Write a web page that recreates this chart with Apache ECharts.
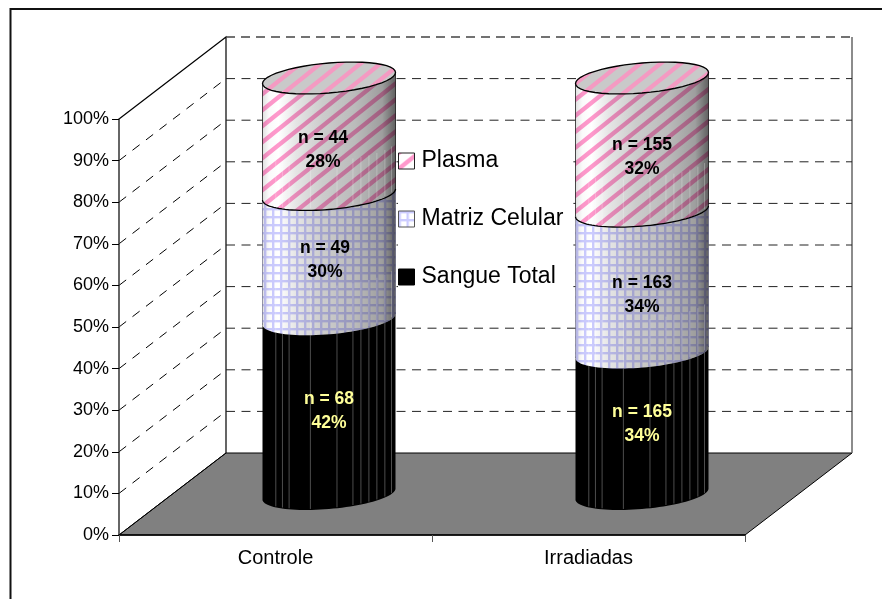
<!DOCTYPE html>
<html><head><meta charset="utf-8">
<style>html,body{margin:0;padding:0;background:#fff}#c{width:882px;height:599px}</style>
<script src="https://cdn.jsdelivr.net/npm/echarts@6/dist/echarts.min.js"></script>
</head><body><div id="c"></div>
<script>
const categories = ['Controle', 'Irradiadas'];
const sangueTotal = [42, 34];
const matrizCelular = [30, 34];
const plasma = [28, 32];
const sangueN = [68, 165];
const matrizN = [49, 163];
const plasmaN = [44, 155];
const percentTicks = [0,10,20,30,40,50,60,70,80,90,100];

const FONT = '"Liberation Sans", Arial, sans-serif';
const DX = 107, DY = -82;           // oblique depth of the 3D box
const BAR_HW = 66.5, ELL_B = 15, ELL_TILT = 5.5;

function makePattern(kind, bg, fg) {
  const c = document.createElement('canvas');
  const x = c.getContext('2d');
  if (kind === 'stripe') {
    c.width = 20; c.height = 16;
    x.fillStyle = bg; x.fillRect(0,0,20,16);
    x.strokeStyle = fg; x.lineWidth = 4.4;
    for (let i = -2; i <= 2; i++) {
      x.beginPath(); x.moveTo(i*20 - 10, 16 + 8); x.lineTo(i*20 + 30, -8); x.stroke();
    }
  } else {
    c.width = 8; c.height = 8;
    x.fillStyle = bg; x.fillRect(0,0,8,8);
    x.fillStyle = fg;
    x.fillRect(0,0,8,2.4); x.fillRect(0,0,2.4,8);
  }
  return c;
}
const stripeImg = makePattern('stripe', '#fff', '#ff99cc');
const capImg = makePattern('stripe', '#c9c9c9', '#f49ac2');
const gridImg = makePattern('grid', '#fff', '#ccccff');

const shade = {type:'linear',x:0,y:0,x2:1,y2:0,colorStops:[
  {offset:0,color:'rgba(0,0,0,0.12)'},{offset:0.05,color:'rgba(0,0,0,0.02)'},{offset:0.12,color:'rgba(0,0,0,0)'},
  {offset:0.25,color:'rgba(0,0,0,0.10)'},{offset:0.45,color:'rgba(0,0,0,0.20)'},{offset:0.7,color:'rgba(0,0,0,0.27)'},
  {offset:0.9,color:'rgba(0,0,0,0.38)'},{offset:1,color:'rgba(0,0,0,0.62)'}]};
const facetAt = [0.1,0.15,0.2,0.36,0.56,0.68,0.74,0.8,0.86,0.92,0.97];

function ellipsePts(cx, cy, from, to) {
  const pts = [], n = 48;
  for (let i = 0; i <= n; i++) {
    const t = from + (to - from) * i / n;
    pts.push([cx + BAR_HW * Math.cos(t), cy + ELL_B * Math.sin(t) - ELL_TILT * Math.cos(t)]);
  }
  return pts;
}

function cylinderItem(vals, base, pattern, opts) {
  return function (params, api) {
    const i = params.dataIndex;
    const lo = base.reduce((s, a) => s + a[i], 0), hi = lo + vals[i];
    const pLo = api.coord([i, lo]), pHi = api.coord([i, hi]);
    const cx = pLo[0] + DX/2, yLo = pLo[1] + DY/2, yHi = pHi[1] + DY/2;
    const back = ellipsePts(cx, yHi, Math.PI, 2*Math.PI);
    const front = ellipsePts(cx, yLo, 0, Math.PI);
    const body = back.concat(front);
    const kids = [];
    const fillStyle = pattern ? {image: pattern, repeat: 'repeat'} : '#000';
    kids.push({type:'polygon', shape:{points:body}, style:{fill: fillStyle, stroke:null}, silent:true});
    if (pattern) {
      kids.push({type:'polygon', shape:{points:body}, style:{fill: {...shade, global:false}, stroke:null}, silent:true});
    }
    facetAt.forEach(f => {
      const fx = cx - BAR_HW + 2*BAR_HW*f;
      const ang = Math.acos((fx - cx)/BAR_HW);
      const off = ELL_B*Math.sin(ang) - ELL_TILT*Math.cos(ang);
      const yb = yLo + off, yt = yHi + off;
      if (pattern) {
        kids.push({type:'line', shape:{x1:fx,y1:yb-48,x2:fx,y2:yb-2}, style:{stroke:'rgba(255,255,255,0.25)',lineWidth:1}, silent:true});
      } else {
        kids.push({type:'line', shape:{x1:fx,y1:yt,x2:fx,y2:yb-1}, style:{stroke:'rgba(110,110,110,0.7)',lineWidth:1}, silent:true});
      }
    });
    if (opts.sideStroke) {
      kids.push({type:'line', shape:{x1:cx-BAR_HW,y1:yHi+ELL_TILT,x2:cx-BAR_HW,y2:yLo+ELL_TILT}, style:{stroke:opts.sideStroke,lineWidth:1}, silent:true});
      kids.push({type:'line', shape:{x1:cx+BAR_HW,y1:yHi-ELL_TILT,x2:cx+BAR_HW,y2:yLo-ELL_TILT}, style:{stroke:opts.sideStroke,lineWidth:1}, silent:true});
    }
    if (opts.bottomArc) {
      kids.push({type:'polyline', shape:{points:front}, style:{stroke:'#000',lineWidth:1.3,fill:null}, silent:true});
    }
    if (opts.cap) {
      const cap = ellipsePts(cx, yHi, 0, 2*Math.PI);
      kids.push({type:'polygon', shape:{points:cap}, style:{fill:{image:capImg,repeat:'repeat'}, stroke:'#000', lineWidth:1.3}, silent:true});
    }
    const mid = api.coord([i, (lo + hi)/2]);
    const nudge = opts.nudge[i];
    const lx = mid[0] + DX/2 + nudge[0], ly = mid[1] + DY/2 + nudge[1];
    kids.push({type:'text', silent:true, z2:50, style:{
      x:lx, y:ly, text:'n = ' + opts.n[i] + '\n' + vals[i] + '%', align:'center', verticalAlign:'middle',
      font:'bold 17.5px ' + FONT, lineHeight:24, fill:opts.textColor}});
    return {type:'group', children:kids};
  };
}

const option = {
  animation:false,
  backgroundColor:'#fff',
  graphic:[
    {type:'polyline', silent:true, shape:{points:[[10.5,599],[10.5,9],[882,9]]}, style:{stroke:'#111',lineWidth:2,fill:null}}
  ],
  grid:{left:119, right:137, top:119, bottom:64, containLabel:false},
  legend:{
    left:398, top:130, orient:'vertical', itemWidth:16, itemHeight:16, itemGap:26,
    padding:[15,10,14,0], backgroundColor:'#fff', selectedMode:false, z:20,
    textStyle:{fontFamily:FONT,fontSize:23,color:'#000',padding:[2,0,0,2],lineHeight:30},
    data:[
      {name:'Plasma',icon:'rect',itemStyle:{color:{image:stripeImg,repeat:'repeat'},borderColor:'#222',borderWidth:1}},
      {name:'Matriz Celular',icon:'rect',itemStyle:{color:{image:makePattern('grid','#fff','#ccccff'),repeat:'repeat'},borderColor:'#555',borderWidth:1}},
      {name:'Sangue Total',icon:'rect',itemStyle:{color:'#000',borderColor:'#000',borderWidth:1}}
    ]
  },
  xAxis:{type:'category',data:categories,boundaryGap:true,
    axisLine:{lineStyle:{color:'#000',width:1.5}},
    axisTick:{show:true,length:7,alignWithLabel:false,lineStyle:{color:'#555',width:1}},
    axisLabel:{fontFamily:FONT,fontSize:20,color:'#000',margin:13},z:5},
  yAxis:{type:'value',min:0,max:100,interval:10,
    axisLine:{show:true,lineStyle:{color:'#333',width:1.5}},
    axisTick:{show:true,length:7,lineStyle:{color:'#000',width:1}},
    axisLabel:{fontFamily:FONT,fontSize:18,color:'#000',margin:10,padding:[2,0,0,0],formatter:'{value}%'},
    splitLine:{show:false},z:5},
  series:[
    {type:'custom',name:'walls',coordinateSystem:'cartesian2d',z:1,silent:true,
     data:[[0,0]],encode:{x:0,y:1},legendHoverLink:false,
     renderItem:function(params,api){
       const a = api.coord([0,0]), b = api.coord([0,100]);
       const size = api.size([1,0]);
       const L = a[0]-size[0]/2, R = L + size[0]*categories.length, y0=a[1], y1=b[1];
       const kids=[
         {type:'polygon',shape:{points:[[L,y0],[L+DX,y0+DY],[R+DX,y0+DY],[R,y0]]},style:{fill:'#808080',stroke:'#000',lineWidth:1}},
         {type:'polyline',shape:{points:[[L,y1],[L+DX,y1+DY],[L+DX,y0+DY]]},style:{stroke:'#000',lineWidth:1.2,fill:null}},
         {type:'line',shape:{x1:L+DX,y1:y0+DY,x2:L,y2:y0},style:{stroke:'#000',lineWidth:1}},
         {type:'line',shape:{x1:R+DX,y1:y1+DY,x2:R+DX,y2:y0+DY},style:{stroke:'#666',lineWidth:1.5}},
         {type:'line',shape:{x1:L+DX,y1:y1+DY,x2:R+DX,y2:y1+DY},style:{stroke:'#444',lineWidth:1.5,lineDash:[9,6]}}
       ];
       percentTicks.forEach(v=>{
         if(v===0||v===100) return;
         const y=api.coord([0,v])[1];
         kids.push({type:'line',shape:{x1:L,y1:y,x2:L+DX,y2:y+DY},style:{stroke:'#000',lineWidth:1,lineDash:[9,8]}});
         kids.push({type:'line',shape:{x1:L+DX,y1:y+DY,x2:R+DX,y2:y+DY},style:{stroke:'#222',lineWidth:1,lineDash:[9,6.5]}});
       });
       return {type:'group',children:kids,silent:true};
     }},
    {type:'custom',name:'Sangue Total',coordinateSystem:'cartesian2d',z:3,silent:true,
     data:categories.map((c,i)=>[i,sangueTotal[i]]),encode:{x:0,y:1},itemStyle:{color:'#000'},
     renderItem:cylinderItem(sangueTotal,[],null,{n:sangueN,textColor:'#ffff99',nudge:[[0,5],[0,1]]})},
    {type:'custom',name:'Matriz Celular',coordinateSystem:'cartesian2d',z:4,silent:true,
     data:categories.map((c,i)=>[i,matrizCelular[i]]),encode:{x:0,y:1},
     renderItem:cylinderItem(matrizCelular,[sangueTotal],gridImg,{n:matrizN,textColor:'#000',sideStroke:'rgba(60,60,90,0.5)',nudge:[[-4,3],[0,13]]})},
    {type:'custom',name:'Plasma',coordinateSystem:'cartesian2d',z:5,silent:true,
     data:categories.map((c,i)=>[i,plasma[i]]),encode:{x:0,y:1},
     renderItem:cylinderItem(plasma,[sangueTotal,matrizCelular],stripeImg,{n:plasmaN,textColor:'#000',sideStroke:'rgba(0,0,0,0.7)',bottomArc:true,cap:true,nudge:[[-6,14],[0,13]]})}
  ]
};
const chart = echarts.init(document.getElementById('c'),null,{renderer:'canvas'});
chart.setOption(option);
</script>
</body></html>
